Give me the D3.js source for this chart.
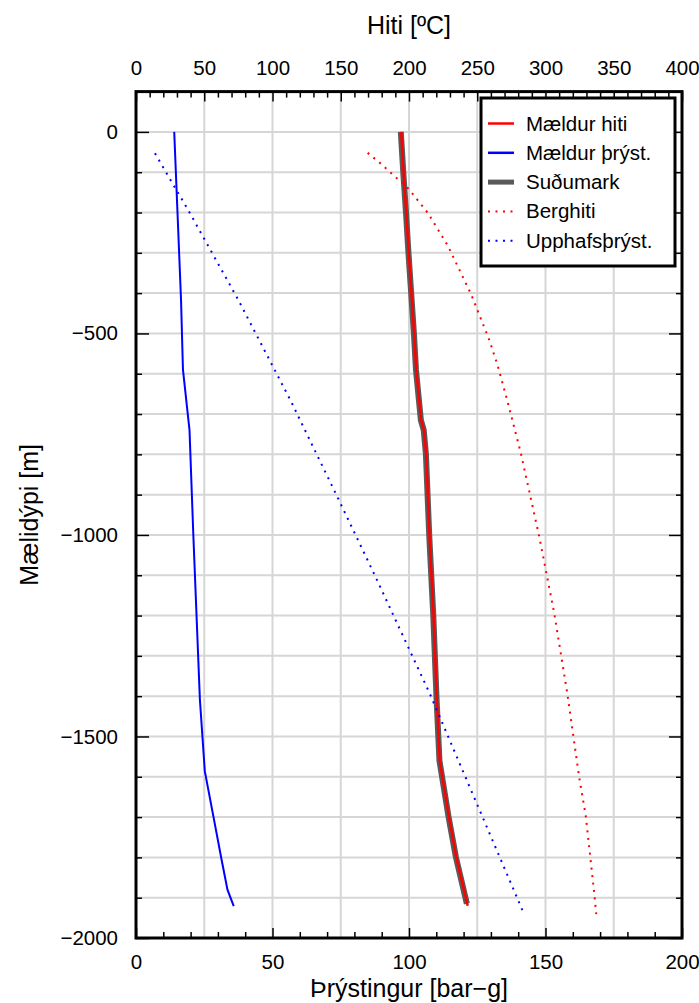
<!DOCTYPE html>
<html>
<head>
<meta charset="utf-8">
<script src="https://cdn.jsdelivr.net/npm/d3@7"></script>
<style>
  body { margin: 0; background: #fff; }
  text { font-family: "Liberation Sans", Arial, sans-serif; }
</style>
</head>
<body>
<div id="chart"></div>
<script>
// Mældur hiti (measured temperature, top axis)
var hitiDepth = [0, -100, -200, -300, -400, -500, -590, -715, -740, -800, -1000, -1200, -1400, -1560, -1700, -1800, -1920];
var hitiVal   = [194.3, 196, 198, 199.8, 201.8, 203.8, 205.3, 208.9, 211, 212.6, 215, 218, 220.3, 222.5, 229.3, 234.7, 243];
// Mældur þrýst. (measured pressure, bottom axis)
var thrDepth = [0, -200, -418, -590, -740, -1000, -1408, -1586, -1700, -1804, -1880, -1921];
var thrVal   = [14.0, 15.2, 16.5, 17.2, 19.6, 21.0, 23.4, 25.2, 28.4, 31.3, 33.5, 35.8];
// Suðumark (boiling point)
var sudDepth = [0, -100, -200, -300, -400, -500, -590, -715, -740, -800, -1000, -1200, -1400, -1560, -1700, -1800, -1915];
var sudVal   = [194.0, 195.8, 197.8, 199.6, 201.6, 203.6, 205.1, 208.7, 210.8, 212.4, 214.8, 217.8, 220.1, 222.3, 229.0, 234.4, 242.4];
// Berghiti (formation temperature, top axis)
var bergDepth = [-52, -76, -142, -201, -282, -402, -517, -579, -670, -798, -1004, -1194, -1396, -1602, -1697, -1886, -1941];
var bergVal   = [169.7, 178.4, 199.9, 213.8, 228.4, 245.4, 258.9, 264.9, 272.3, 282, 295.4, 306.4, 316.1, 324.7, 329.5, 335.6, 337.2];
// Upphafsþrýst. (initial pressure, bottom axis)
var uppDepth = [-53, -201, -416, -670, -909, -1099, -1392, -1932];
var uppVal   = [6.95, 19.7, 37.4, 56.9, 74.0, 87.4, 107.5, 141.6];

var pTicks = [0, 50, 100, 150, 200];
var tTicks = [0, 50, 100, 150, 200, 250, 300, 350, 400];
var dTicks = [0, -500, -1000, -1500, -2000];
var legendNames = ["Mældur hiti", "Mældur þrýst.", "Suðumark", "Berghiti", "Upphafsþrýst."];

(function () {
var W = 699, H = 1003;
var mLeft = 136, mRight = 682, mTop = 91.6, mBottom = 938;
var tickFont = "20.5px";

var svg = d3.select("#chart").append("svg")
  .attr("width", W).attr("height", H);

var xP = d3.scaleLinear().domain([0, 200]).range([mLeft, mRight]);
var xT = d3.scaleLinear().domain([0, 400]).range([mLeft, mRight]);
var y = d3.scaleLinear().domain([-2000, 100]).range([mBottom, mTop]);

// grid
var grid = svg.append("g").attr("stroke", "#d6d6d6").attr("stroke-width", 2);
grid.selectAll(".hg").data(d3.range(-1900, 1, 100)).enter().append("line")
  .attr("x1", mLeft).attr("x2", mRight)
  .attr("y1", d => y(d)).attr("y2", d => y(d));
grid.selectAll(".vg").data(d3.range(25, 200, 25)).enter().append("line")
  .attr("y1", mTop).attr("y2", mBottom)
  .attr("x1", d => xP(d)).attr("x2", d => xP(d));

// series
function line(xs, vals, depths) {
  return d3.line().x((d, i) => xs(vals[i])).y((d, i) => y(depths[i]))(depths);
}
var plot = svg.append("g").attr("fill", "none");
plot.append("path").attr("d", line(xT, sudVal, sudDepth))
  .attr("stroke", "#5a5a5a").attr("stroke-width", 6).attr("stroke-linejoin", "round");
plot.append("path").attr("d", line(xT, hitiVal, hitiDepth))
  .attr("stroke", "#ff0000").attr("stroke-width", 2.5);
plot.append("path").attr("d", line(xP, thrVal, thrDepth))
  .attr("stroke", "#0000ff").attr("stroke-width", 2);
plot.append("path").attr("d", line(xT, bergVal, bergDepth))
  .attr("stroke", "#ff0000").attr("stroke-width", 2).attr("stroke-dasharray", "2,5.5");
plot.append("path").attr("d", line(xP, uppVal, uppDepth))
  .attr("stroke", "#0000ff").attr("stroke-width", 2).attr("stroke-dasharray", "2,5.5");

// axes (ticks point inward)
function styleAxis(g) {
  g.select(".domain").remove();
  g.selectAll(".tick line").attr("stroke", "#000").attr("stroke-width", 1.5);
  g.selectAll("text").attr("font-size", tickFont).attr("fill", "#000")
    .attr("font-family", "'Liberation Sans', Arial, sans-serif");
}
var minorP = d3.range(10, 200, 10).filter(d => d % 50);
var minorT = d3.range(10, 400, 10).filter(d => d % 50);
var minorD = d3.range(-1900, 100, 100).filter(d => d % 500);

svg.append("g").attr("transform", "translate(0," + mBottom + ")")
  .call(d3.axisBottom(xP).tickValues(pTicks).tickSize(-10).tickPadding(16))
  .call(styleAxis);
svg.append("g").attr("transform", "translate(0," + mBottom + ")")
  .call(d3.axisBottom(xP).tickValues(minorP).tickSize(-6).tickFormat(""))
  .call(styleAxis);
svg.append("g").attr("transform", "translate(0," + mTop + ")")
  .call(d3.axisTop(xT).tickValues(tTicks).tickSize(-10).tickPadding(17))
  .call(styleAxis);
svg.append("g").attr("transform", "translate(0," + mTop + ")")
  .call(d3.axisTop(xT).tickValues(minorT).tickSize(-6).tickFormat(""))
  .call(styleAxis);
svg.append("g").attr("transform", "translate(" + mLeft + ",0)")
  .call(d3.axisLeft(y).tickValues(dTicks).tickSize(-13).tickPadding(18).tickFormat(d3.format("d")))
  .call(styleAxis);
svg.append("g").attr("transform", "translate(" + mLeft + ",0)")
  .call(d3.axisLeft(y).tickValues(minorD).tickSize(-6).tickFormat(""))
  .call(styleAxis);
svg.append("g").attr("transform", "translate(" + mRight + ",0)")
  .call(d3.axisRight(y).tickValues(dTicks).tickSize(-13).tickFormat(""))
  .call(styleAxis);
svg.append("g").attr("transform", "translate(" + mRight + ",0)")
  .call(d3.axisRight(y).tickValues(minorD).tickSize(-6).tickFormat(""))
  .call(styleAxis);

// frame
svg.append("rect")
  .attr("x", mLeft).attr("y", mTop)
  .attr("width", mRight - mLeft).attr("height", mBottom - mTop)
  .attr("fill", "none").attr("stroke", "#000").attr("stroke-width", 3);

// axis titles
svg.append("text").attr("x", (mLeft + mRight) / 2).attr("y", 34)
  .attr("text-anchor", "middle").attr("font-size", "25px").text("Hiti [ºC]");
svg.append("text").attr("x", (mLeft + mRight) / 2).attr("y", 997)
  .attr("text-anchor", "middle").attr("font-size", "25px").text("Þrýstingur [bar−g]");
svg.append("text")
  .attr("transform", "translate(38," + ((mTop + mBottom) / 2) + ") rotate(-90)")
  .attr("text-anchor", "middle").attr("font-size", "25px").text("Mælidýpi [m]");

// legend
var lg = svg.append("g");
lg.append("rect").attr("x", 481).attr("y", 98).attr("width", 194).attr("height", 168)
  .attr("fill", "#fff").attr("stroke", "#000").attr("stroke-width", 3);
var legendStyle = [
  {c: "#ff0000", w: 2.5, dash: null},
  {c: "#0000ff", w: 2.5, dash: null},
  {c: "#5a5a5a", w: 5, dash: null},
  {c: "#ff0000", w: 2, dash: "2,5.5"},
  {c: "#0000ff", w: 2, dash: "2,5.5"}
];
legendNames.forEach(function (name, i) {
  var yy = 123.5 + i * 29.3;
  lg.append("line").attr("x1", 488).attr("x2", 514).attr("y1", yy).attr("y2", yy)
    .attr("stroke", legendStyle[i].c).attr("stroke-width", legendStyle[i].w)
    .attr("stroke-dasharray", legendStyle[i].dash);
  lg.append("text").attr("x", 526).attr("y", yy + 7).attr("font-size", "20.5px").text(name);
});
})();
</script>
</body>
</html>
